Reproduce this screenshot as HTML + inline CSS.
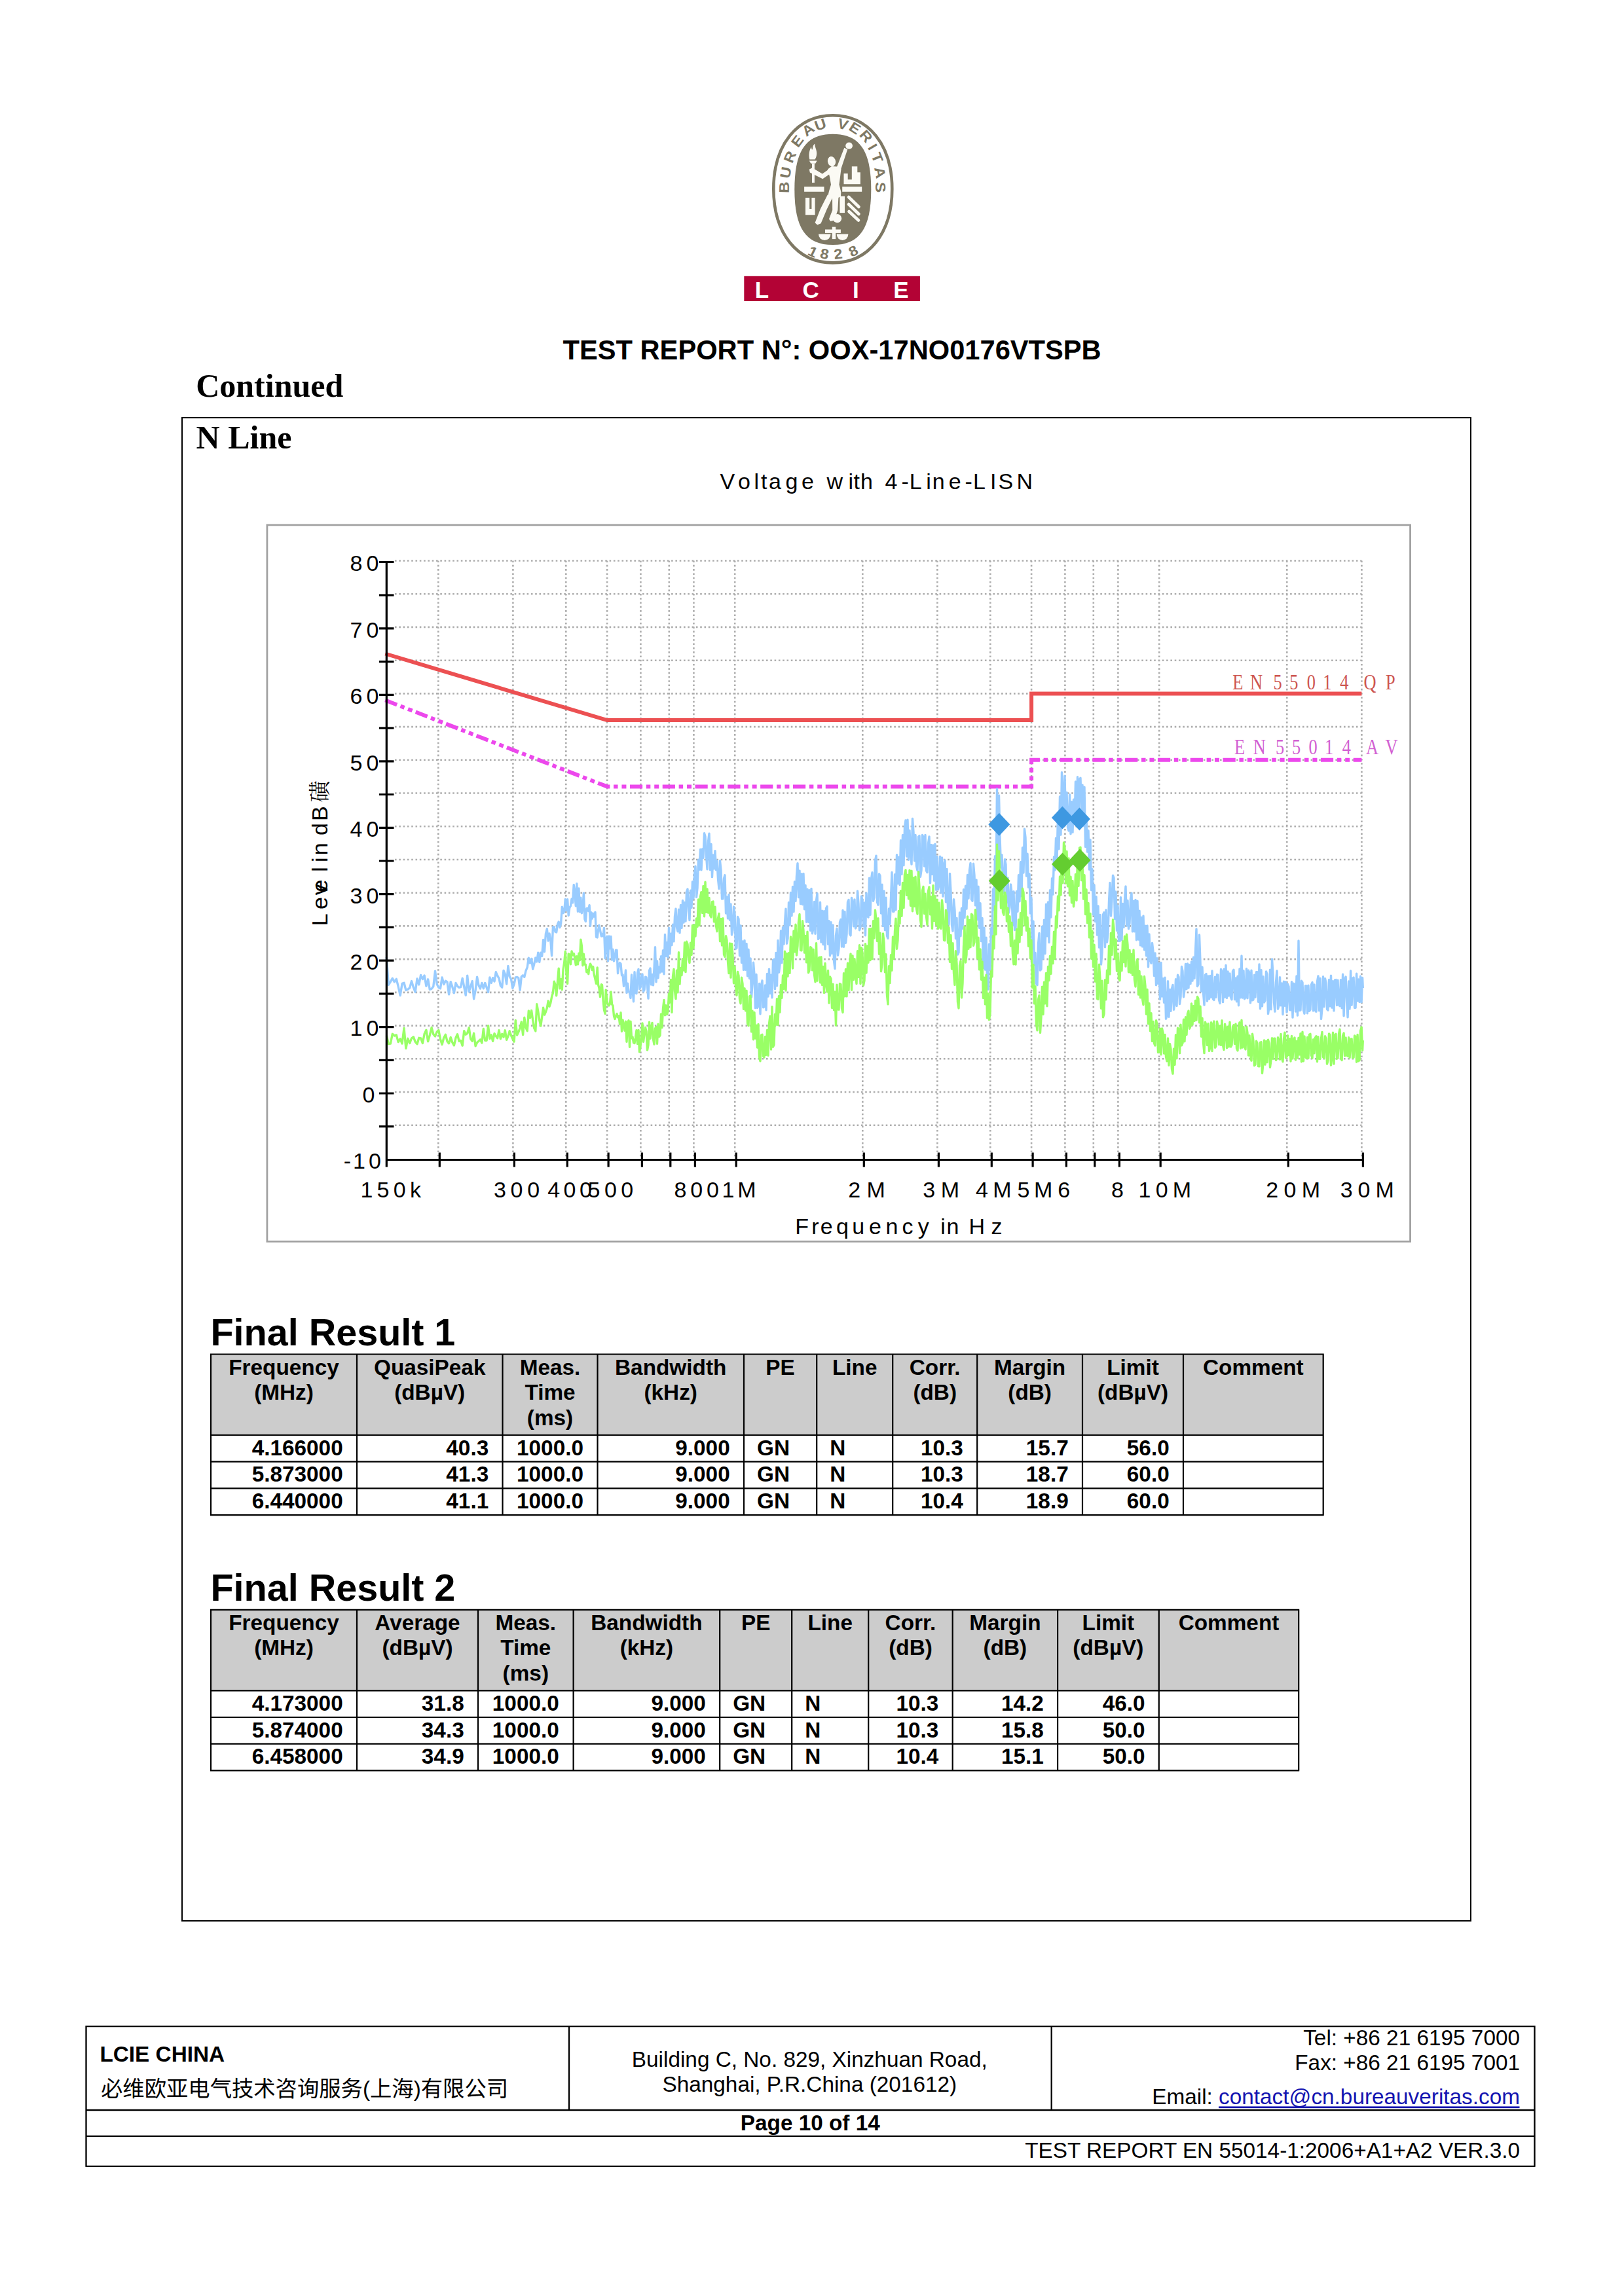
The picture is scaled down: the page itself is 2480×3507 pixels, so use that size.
<!DOCTYPE html>
<html><head><meta charset="utf-8"><title>Test Report Page 10</title>
<style>
html,body{margin:0;padding:0;background:#fff;}
body{width:2480px;height:3507px;overflow:hidden;position:relative;}
svg{position:absolute;left:0;top:0;}
</style></head><body>
<svg width="2480" height="3507" viewBox="0 0 2480 3507">
<g id="logo">
<path d="M1271.8 176.2 C1326.1 176.2 1362.3 221.2 1362.3 288.8 C1362.3 356.4 1326.1 401.4 1271.8 401.4 C1217.5 401.4 1181.3 356.4 1181.3 288.8 C1181.3 221.2 1217.5 176.2 1271.8 176.2 Z" fill="none" stroke="#7e7864" stroke-width="4.6"/>
<path d="M1271.8 204.8 C1312.8 204.8 1330.3 230.2 1330.3 289.4 C1330.3 348.6 1312.8 374.0 1271.8 374.0 C1230.8 374.0 1213.3 348.6 1213.3 289.4 C1213.3 230.2 1230.8 204.8 1271.8 204.8 Z" fill="#7e7864"/>
<g font-family="Liberation Sans, Arial, sans-serif" font-weight="bold" font-size="21.5" fill="#7e7864"><text transform="translate(1197.1 286.2) rotate(-88.8) scale(1.12 1)" y="7.7" text-anchor="middle">B</text><text transform="translate(1199.7 263.5) rotate(-78.9) scale(1.12 1)" y="7.7" text-anchor="middle">U</text><text transform="translate(1206.0 239.5) rotate(-67.3) scale(1.12 1)" y="7.7" text-anchor="middle">R</text><text transform="translate(1217.3 215.5) rotate(-53.2) scale(1.12 1)" y="7.7" text-anchor="middle">E</text><text transform="translate(1233.7 197.8) rotate(-37.0) scale(1.12 1)" y="7.7" text-anchor="middle">A</text><text transform="translate(1252.7 190.2) rotate(-19.2) scale(1.12 1)" y="7.7" text-anchor="middle">U</text><text transform="translate(1287.4 189.6) rotate(15.8) scale(1.12 1)" y="7.7" text-anchor="middle">V</text><text transform="translate(1305.7 195.3) rotate(33.1) scale(1.12 1)" y="7.7" text-anchor="middle">E</text><text transform="translate(1322.7 207.9) rotate(48.5) scale(1.12 1)" y="7.7" text-anchor="middle">R</text><text transform="translate(1332.8 224.3) rotate(59.5) scale(1.12 1)" y="7.7" text-anchor="middle">I</text><text transform="translate(1339.8 240.7) rotate(68.5) scale(1.12 1)" y="7.7" text-anchor="middle">T</text><text transform="translate(1344.2 263.5) rotate(78.9) scale(1.12 1)" y="7.7" text-anchor="middle">A</text><text transform="translate(1344.8 286.2) rotate(88.8) scale(1.12 1)" y="7.7" text-anchor="middle">S</text></g>
<g font-family="Liberation Sans, Arial, sans-serif" font-weight="bold" font-size="21.5" fill="#7e7864"><text transform="translate(1241.3 384.7) rotate(25.5) scale(1.1 1)" y="7.4" text-anchor="middle">1</text><text transform="translate(1259.0 387.8) rotate(11.0) scale(1.1 1)" y="7.4" text-anchor="middle">8</text><text transform="translate(1279.8 387.8) rotate(-6.9) scale(1.1 1)" y="7.4" text-anchor="middle">2</text><text transform="translate(1303.2 383.4) rotate(-26.4) scale(1.1 1)" y="7.4" text-anchor="middle">8</text></g>
<g fill="#fbfaf4" stroke="none">
<path d="M1236.3 243.5 C1234.5 236 1236 229 1239 224.5 C1239.2 229 1240.6 230 1241 226.5 C1241.3 222.5 1243 220.5 1244.3 219.6 C1244 224.5 1247.3 228.5 1247.2 234.5 C1247.1 239 1245.6 242 1244.5 243.5Z"/>
<path d="M1235.8 245.6 H1247.7 L1245.2 249.8 H1238.3Z"/><rect x="1240" y="249.7" width="3.9" height="29.3"/>
<path d="M1235.8 258.8 L1240.3 256.3 L1255.8 265.6 L1265.8 258.6 L1268.3 265 L1256.3 273.2 L1236.8 263.5Z"/>
<ellipse cx="1270" cy="246.6" rx="6" ry="7.7" transform="rotate(-12 1270 246.6)"/>
<path d="M1264 258.5 L1270 254 L1279 254.5 L1284.5 258 L1283 270 L1281.5 282 L1284.3 293 L1284 300 L1277 303.5 L1263.5 302.5 L1266 292 L1269 282 L1267 270Z"/>
<path d="M1277 257.5 L1289.3 225.8 L1294.2 228.2 L1283.8 259.5Z"/><ellipse cx="1296.6" cy="222.7" rx="5.4" ry="5.1"/>
<path d="M1263.8 297.5 L1272.3 299.8 L1262.5 320 L1253.6 341.2 L1248.2 343.6 L1244.6 340.3 L1252.8 319.2Z"/>
<path d="M1271 300 L1280.5 300.5 L1279.3 321 L1274.2 336.5 L1268.2 338 L1266 334.5 L1271.2 321Z"/><circle cx="1278.6" cy="333.6" r="6.6"/>
<rect x="1228.1" y="285.1" width="30.4" height="7.7"/><rect x="1286.2" y="285.1" width="30" height="7.7"/>
<path d="M1288.5 265 h6.2 v9.3 h6.1 v-20 h8.5 v9 h4.6 v18 h-25.4Z"/>
<path d="M1230 302 h6.2 v17 h3.2 v-17 h5.2 v26.2 h-14.6Z"/>
<rect x="1282.4" y="299.7" width="7.6" height="25.4"/>
<path d="M1296 301 L1311.5 316 M1296 312 L1311.5 327 M1296.5 323 L1311 336.5" stroke="#fbfaf4" stroke-width="4.6" stroke-linecap="round" fill="none"/>
<rect x="1270.8" y="346.6" width="5.4" height="18.5"/><rect x="1260" y="350.5" width="23.9" height="5.4"/>
<path d="M1250 357.4 h18.5 a9.25 9.6 0 0 1 -18.5 0Z"/><path d="M1277.7 357.4 h17.7 a8.85 9.6 0 0 1 -17.7 0Z"/>
</g>
<rect x="1136.3" y="421.8" width="268.6" height="38.2" fill="#b30335"/>
<g font-family="Liberation Sans, Arial, sans-serif" font-weight="bold" font-size="35" fill="#fff"><text x="1152.8" y="454.9">L</text><text x="1225.4" y="454.9">C</text><text x="1302.1" y="454.9">I</text><text x="1364.3" y="454.9">E</text></g>
</g>
<g id="header">
<text x="859.5" y="548.8" font-family="Liberation Sans, Arial, sans-serif" font-weight="bold" font-size="41.67">TEST REPORT N°: OOX-17NO0176VTSPB</text>
<text x="299.2" y="606.0" font-family="Liberation Serif, Times New Roman, serif" font-weight="bold" font-size="50">Continued</text>
<rect x="278" y="638" width="1968" height="2296" fill="none" stroke="#000" stroke-width="2"/>
<text x="299.6" y="685.3" font-family="Liberation Serif, Times New Roman, serif" font-weight="bold" font-size="50">N Line</text>
</g>
<g id="chart">
<rect x="407.9" y="801.9" width="1745.7" height="1094.4" fill="#fff" stroke="#a2a2a2" stroke-width="2.8"/>
<path d="M669.3 856.5V1769.5 M783.4 856.5V1769.5 M864.3 856.5V1769.5 M927.1 856.5V1769.5 M978.4 856.5V1769.5 M1021.8 856.5V1769.5 M1059.4 856.5V1769.5 M1122.2 856.5V1769.5 M1317.3 856.5V1769.5 M1431.4 856.5V1769.5 M1512.3 856.5V1769.5 M1575.1 856.5V1769.5 M1626.4 856.5V1769.5 M1669.8 856.5V1769.5 M1707.4 856.5V1769.5 M1770.2 856.5V1769.5 M1965.3 856.5V1769.5 M2079.4 856.5V1769.5 M603 1718.7H2079.4 M603 1668.0H2079.4 M603 1617.3H2079.4 M603 1566.6H2079.4 M603 1515.9H2079.4 M603 1465.1H2079.4 M603 1414.4H2079.4 M603 1363.7H2079.4 M603 1313.0H2079.4 M603 1262.3H2079.4 M603 1211.5H2079.4 M603 1160.8H2079.4 M603 1110.1H2079.4 M603 1059.4H2079.4 M603 1008.7H2079.4 M603 957.9H2079.4 M603 907.2H2079.4 M603 856.5H2079.4" stroke="#adadad" stroke-width="2.6" stroke-dasharray="2.6 3.7" fill="none"/>
<path d="M588.3 998.5 L927.1 1100.0 L1575.1 1100.0 L1575.1 1059.4 L2079.4 1059.4" stroke="#ec5052" stroke-width="6" fill="none"/>
<path d="M588.3 1069.5 L927.1 1201.4 L1575.1 1201.4 L1575.1 1160.8 L2079.4 1160.8" stroke="#ec48ec" stroke-width="6" fill="none" stroke-dasharray="19.2 5.7 6.5 5.9 7 5.5"/>
<path d="M590.3 1462.0 593.3 1504.3 596.3 1499.6 599.3 1494.4 602.3 1499.8 605.3 1495.4 608.2 1506.9 611.2 1520.6 614.1 1502.4 617.0 1501.2 619.9 1512.5 622.8 1511.3 625.7 1508.9 628.5 1498.6 631.3 1507.9 634.2 1515.3 637.0 1494.9 639.8 1504.0 642.6 1489.4 645.4 1495.6 648.1 1490.0 650.9 1506.3 653.6 1495.8 656.3 1511.4 659.1 1510.3 661.8 1506.8 664.5 1483.1 667.2 1503.2 669.8 1508.2 672.5 1509.8 675.1 1492.9 677.8 1503.5 680.4 1498.3 683.0 1499.9 685.6 1518.9 688.2 1499.6 690.8 1507.4 693.4 1516.7 696.0 1501.5 698.5 1506.2 701.1 1508.4 703.6 1507.7 706.2 1494.3 708.7 1507.4 711.2 1520.3 713.7 1490.2 716.2 1514.7 718.7 1506.8 721.2 1498.7 723.6 1525.7 726.1 1512.7 728.6 1492.2 731.0 1505.1 733.4 1510.1 735.9 1501.5 738.3 1509.8 740.7 1501.4 743.1 1508.3 745.5 1515.5 747.9 1492.9 750.3 1501.3 752.6 1493.7 755.0 1499.1 757.3 1484.8 759.7 1490.4 762.0 1494.3 764.4 1505.7 766.7 1508.2 769.0 1482.5 771.3 1488.0 773.6 1503.1 775.9 1475.5 778.2 1491.5 780.5 1495.3 782.8 1509.5 785.1 1503.5 787.3 1492.9 789.6 1492.4 791.8 1493.7 794.1 1512.3 796.3 1491.8 798.6 1489.9 800.8 1492.3 803.0 1482.9 805.2 1477.7 807.3 1463.3 809.5 1471.3 811.6 1464.4 813.7 1480.4 815.7 1472.6 817.8 1462.9 819.8 1468.9 821.8 1455.1 823.8 1469.6 825.8 1455.1 827.7 1460.3 829.6 1435.5 831.5 1453.7 833.4 1426.5 835.3 1418.8 837.2 1437.1 839.0 1426.0 840.8 1436.2 842.6 1459.8 844.4 1416.4 846.2 1415.7 848.0 1423.3 849.7 1423.9 851.5 1411.7 853.2 1408.0 854.9 1416.7 856.6 1410.5 858.3 1385.1 860.0 1394.6 861.7 1392.4 863.3 1373.5 865.0 1390.6 866.6 1373.8 868.2 1398.4 869.8 1386.4 871.4 1383.9 873.0 1373.3 874.6 1378.8 876.2 1351.5 877.7 1362.6 879.3 1383.8 880.8 1349.8 882.4 1392.3 883.9 1356.9 885.4 1392.8 886.9 1371.2 888.4 1394.8 889.9 1386.6 891.4 1364.1 892.9 1403.9 894.3 1407.5 895.8 1387.6 897.2 1387.3 898.7 1391.5 900.1 1382.6 901.5 1414.2 902.9 1393.8 904.3 1403.1 905.7 1395.2 907.0 1400.0 909.0 1393.3 910.5 1431.2 912.2 1431.9 913.5 1420.9 915.0 1413.3 916.5 1420.8 918.3 1430.0 919.5 1426.8 921.0 1430.1 922.5 1417.2 924.1 1463.7 925.2 1433.5 927.0 1430.3 928.5 1467.9 930.0 1430.0 931.5 1448.7 933.0 1430.5 934.5 1466.1 936.0 1450.2 937.5 1468.1 939.0 1462.8 940.5 1451.2 942.0 1451.2 943.5 1486.8 945.0 1475.5 946.5 1470.6 948.0 1472.2 949.5 1489.7 951.0 1488.7 952.5 1506.3 954.0 1500.5 955.5 1481.9 957.0 1516.4 958.5 1502.1 960.0 1514.4 961.5 1516.6 963.0 1524.5 964.5 1489.0 966.0 1511.8 967.5 1529.8 969.0 1484.7 970.5 1516.8 972.0 1517.5 973.5 1486.2 975.0 1480.5 976.5 1510.6 978.0 1508.3 979.5 1489.2 981.0 1488.1 982.5 1514.5 984.0 1511.8 985.5 1492.2 987.0 1492.8 988.5 1506.1 990.0 1525.1 991.5 1482.5 993.0 1479.1 994.5 1504.0 996.0 1488.4 997.5 1504.8 999.0 1479.5 1000.5 1446.8 1002.0 1499.9 1003.5 1467.9 1005.0 1493.8 1006.5 1476.9 1008.0 1485.5 1009.5 1460.7 1011.0 1484.0 1012.5 1451.7 1014.0 1487.7 1015.5 1427.4 1017.0 1460.4 1018.5 1439.6 1020.0 1462.4 1021.5 1417.2 1023.0 1456.7 1024.5 1426.2 1026.0 1443.5 1027.5 1412.1 1029.0 1437.9 1030.5 1399.7 1032.0 1388.1 1033.5 1416.5 1035.0 1422.7 1036.5 1389.3 1038.0 1424.9 1039.5 1382.4 1041.0 1417.4 1042.5 1375.5 1044.0 1409.1 1045.5 1378.5 1047.0 1407.2 1048.5 1362.2 1050.0 1358.1 1051.5 1391.5 1053.0 1405.5 1054.5 1360.1 1056.0 1386.4 1057.5 1346.8 1059.0 1372.3 1060.5 1336.2 1062.0 1323.3 1063.5 1370.4 1065.0 1356.6 1066.5 1313.2 1068.0 1328.2 1069.5 1297.4 1071.0 1328.7 1072.5 1296.9 1074.0 1310.2 1075.5 1272.8 1077.0 1277.5 1078.5 1306.4 1080.0 1327.7 1081.5 1285.5 1083.0 1273.3 1084.5 1328.6 1086.0 1289.4 1087.5 1339.6 1089.0 1306.0 1090.5 1326.9 1092.0 1299.6 1093.5 1328.6 1095.0 1314.7 1096.5 1342.7 1098.0 1357.4 1099.5 1314.7 1101.0 1328.9 1102.5 1373.0 1104.0 1372.9 1105.5 1342.0 1107.0 1336.8 1108.5 1395.0 1110.0 1369.9 1111.5 1402.9 1113.0 1366.5 1114.5 1405.5 1116.0 1380.9 1117.5 1427.9 1119.0 1421.3 1120.5 1384.9 1122.0 1395.8 1123.5 1449.3 1125.0 1447.9 1126.5 1400.5 1128.0 1403.7 1129.5 1459.8 1131.0 1413.7 1132.5 1470.4 1134.0 1438.0 1135.5 1481.4 1137.0 1436.4 1138.5 1481.2 1140.0 1441.4 1141.5 1490.7 1143.0 1450.2 1144.5 1494.5 1146.0 1463.9 1147.5 1523.1 1149.0 1502.8 1150.5 1470.2 1152.0 1488.8 1153.5 1539.6 1155.0 1488.5 1156.5 1539.4 1158.0 1536.6 1159.5 1502.5 1161.0 1548.8 1162.5 1505.0 1164.0 1497.8 1165.5 1538.7 1167.0 1537.9 1168.5 1504.9 1170.0 1542.8 1171.5 1487.4 1173.0 1522.0 1174.5 1480.1 1176.0 1517.2 1177.5 1489.2 1179.0 1523.8 1180.5 1466.2 1182.0 1465.4 1183.5 1510.7 1185.0 1455.4 1186.5 1505.6 1188.0 1436.4 1189.5 1485.4 1191.0 1473.9 1192.5 1421.7 1194.0 1470.6 1195.5 1416.5 1197.0 1442.1 1198.5 1409.5 1200.0 1388.2 1201.5 1441.3 1203.0 1433.5 1204.5 1378.4 1206.0 1413.0 1207.5 1363.5 1209.0 1398.7 1210.5 1354.4 1212.0 1392.6 1213.5 1346.6 1215.0 1376.4 1216.5 1338.4 1218.0 1318.6 1219.5 1370.6 1221.0 1329.9 1222.5 1380.6 1224.0 1334.7 1225.5 1381.5 1227.0 1334.5 1228.5 1388.7 1230.0 1352.2 1231.5 1408.3 1233.0 1358.2 1234.5 1408.3 1236.0 1359.7 1237.5 1421.3 1239.0 1357.4 1240.5 1425.9 1242.0 1417.4 1243.5 1377.5 1245.0 1426.2 1246.5 1375.7 1248.0 1364.8 1249.5 1434.4 1251.0 1432.3 1252.5 1378.2 1254.0 1439.1 1255.5 1391.3 1257.0 1442.6 1258.5 1391.6 1260.0 1449.8 1261.5 1387.6 1263.0 1384.5 1264.5 1442.1 1266.0 1406.8 1267.5 1459.8 1269.0 1408.8 1270.5 1456.2 1272.0 1413.0 1273.5 1467.8 1275.0 1479.6 1276.5 1428.8 1278.0 1418.3 1279.5 1459.3 1281.0 1448.8 1282.5 1408.5 1284.0 1404.4 1285.5 1446.0 1287.0 1390.4 1288.5 1446.2 1290.0 1392.4 1291.5 1440.4 1293.0 1427.3 1294.5 1377.9 1296.0 1374.4 1297.5 1426.4 1299.0 1428.9 1300.5 1371.4 1302.0 1378.4 1303.5 1414.7 1305.0 1373.9 1306.5 1418.0 1308.0 1413.8 1309.5 1361.0 1311.0 1380.4 1312.5 1420.7 1314.0 1416.5 1315.5 1369.0 1317.0 1374.5 1318.5 1414.9 1320.0 1378.8 1321.5 1428.8 1323.0 1364.3 1324.5 1399.1 1326.0 1401.2 1327.5 1341.3 1329.0 1397.2 1330.5 1342.4 1332.0 1332.8 1333.5 1376.3 1335.0 1371.1 1336.5 1314.5 1338.0 1307.1 1339.5 1377.7 1341.0 1382.2 1342.5 1334.9 1344.0 1337.8 1345.5 1395.0 1347.0 1351.3 1348.5 1414.5 1350.0 1361.0 1351.5 1420.6 1353.0 1371.3 1354.5 1429.3 1356.0 1433.3 1357.5 1388.0 1359.0 1411.2 1360.5 1371.9 1362.0 1332.5 1363.5 1392.2 1365.0 1392.4 1366.5 1335.8 1368.0 1389.6 1369.5 1305.7 1371.0 1349.5 1372.5 1309.2 1374.0 1351.5 1375.5 1283.7 1377.0 1335.5 1378.5 1275.4 1380.0 1321.8 1381.5 1264.2 1383.0 1252.9 1384.5 1308.0 1386.0 1252.2 1387.5 1313.2 1389.0 1268.4 1390.5 1302.1 1392.0 1320.1 1393.5 1250.4 1395.0 1271.0 1396.5 1314.7 1398.0 1275.4 1399.5 1322.9 1401.0 1329.7 1402.5 1278.1 1404.0 1276.6 1405.5 1339.3 1407.0 1329.4 1408.5 1275.5 1410.0 1278.3 1411.5 1323.0 1413.0 1275.4 1414.5 1329.9 1416.0 1332.6 1417.5 1288.6 1419.0 1277.9 1420.5 1348.6 1422.0 1290.4 1423.5 1335.4 1425.0 1290.9 1426.5 1345.1 1428.0 1289.1 1429.5 1359.2 1431.0 1308.4 1432.5 1358.8 1434.0 1351.3 1435.5 1308.3 1437.0 1363.2 1438.5 1309.9 1440.0 1369.1 1441.5 1320.9 1443.0 1314.1 1444.5 1377.8 1446.0 1327.5 1447.5 1387.4 1449.0 1411.7 1450.5 1334.4 1452.0 1362.0 1453.5 1412.7 1455.0 1422.3 1456.5 1373.6 1458.0 1390.3 1459.5 1433.6 1461.0 1402.2 1462.5 1458.0 1464.0 1454.8 1465.5 1394.0 1467.0 1429.8 1468.5 1387.3 1470.0 1418.3 1471.5 1358.8 1473.0 1401.9 1474.5 1353.3 1476.0 1388.1 1477.5 1336.5 1479.0 1372.3 1480.5 1329.3 1482.0 1318.4 1483.5 1373.6 1485.0 1376.2 1486.5 1319.3 1488.0 1337.0 1489.5 1382.9 1491.0 1343.9 1492.5 1404.6 1494.0 1354.2 1495.5 1417.2 1497.0 1379.8 1498.5 1437.6 1500.0 1402.5 1501.5 1478.6 1503.0 1417.2 1504.5 1481.1 1506.0 1432.2 1507.5 1491.5 1509.0 1511.2 1510.5 1442.3 1512.0 1480.2 1513.5 1417.8 1515.0 1431.5 1516.5 1358.2 1518.0 1389.7 1519.5 1307.6 1521.0 1353.4 1522.5 1205.0 1524.0 1324.2 1525.5 1215.0 1527.0 1278.2 1528.5 1324.9 1530.0 1305.8 1531.5 1347.9 1533.0 1363.6 1534.5 1312.6 1536.0 1320.5 1537.5 1378.5 1539.0 1340.9 1540.5 1394.1 1542.0 1386.0 1543.5 1351.0 1545.0 1363.8 1546.5 1413.3 1548.0 1361.8 1549.5 1420.5 1551.0 1418.2 1552.5 1361.4 1554.0 1392.2 1555.5 1336.8 1557.0 1376.8 1558.5 1316.8 1560.0 1368.8 1561.5 1294.7 1563.0 1333.0 1564.5 1266.1 1566.0 1279.0 1567.5 1338.1 1569.0 1304.3 1570.5 1355.4 1572.0 1335.0 1573.5 1395.1 1575.0 1371.3 1576.5 1448.6 1578.0 1407.3 1579.5 1474.1 1581.0 1455.5 1582.5 1502.6 1584.0 1504.7 1585.5 1442.0 1587.0 1425.5 1588.5 1482.1 1590.0 1480.3 1591.5 1415.1 1593.0 1464.1 1594.5 1405.1 1596.0 1456.5 1597.5 1381.3 1599.0 1429.9 1600.5 1378.0 1602.0 1439.5 1603.5 1359.8 1605.0 1401.0 1606.5 1341.8 1608.0 1366.1 1609.5 1308.7 1611.0 1329.1 1612.5 1280.2 1614.0 1317.9 1615.5 1244.6 1617.0 1296.8 1618.5 1216.8 1620.0 1275.0 1621.5 1179.8 1623.0 1206.5 1624.5 1262.2 1626.0 1185.1 1627.5 1252.8 1629.0 1210.4 1630.5 1263.6 1632.0 1268.9 1633.5 1213.7 1635.0 1273.7 1636.5 1224.7 1638.0 1271.4 1639.5 1221.3 1641.0 1255.6 1642.5 1193.9 1644.0 1240.9 1645.5 1186.8 1647.0 1244.0 1648.5 1190.3 1650.0 1188.4 1651.5 1246.6 1653.0 1199.0 1654.5 1261.3 1656.0 1202.3 1657.5 1293.4 1659.0 1247.6 1660.5 1301.1 1662.0 1268.7 1663.5 1328.1 1665.0 1282.8 1666.5 1359.5 1668.0 1327.6 1669.5 1396.9 1671.0 1351.7 1672.5 1407.5 1674.0 1369.7 1675.5 1428.1 1677.0 1384.0 1678.5 1447.1 1680.0 1397.4 1681.5 1473.0 1683.0 1454.8 1684.5 1397.0 1686.0 1393.8 1687.5 1446.7 1689.0 1389.9 1690.5 1439.2 1692.0 1426.6 1693.5 1376.5 1695.0 1348.5 1696.5 1399.0 1698.0 1375.1 1699.5 1337.1 1701.0 1341.1 1702.5 1403.8 1704.0 1362.0 1705.5 1421.4 1707.0 1383.2 1708.5 1436.9 1710.0 1437.5 1711.5 1370.6 1713.0 1435.6 1714.5 1380.5 1716.0 1416.4 1717.5 1375.6 1719.0 1353.9 1720.5 1413.9 1722.0 1375.5 1723.5 1418.6 1725.0 1410.2 1726.5 1373.0 1728.0 1364.2 1729.5 1422.9 1731.0 1376.3 1732.5 1422.8 1734.0 1374.5 1735.5 1435.7 1737.0 1376.2 1738.5 1435.0 1740.0 1391.1 1741.5 1443.9 1743.0 1401.2 1744.5 1445.9 1746.0 1399.0 1747.5 1450.7 1749.0 1414.3 1750.5 1459.8 1752.0 1413.9 1753.5 1477.0 1755.0 1426.9 1756.5 1465.8 1758.0 1471.4 1759.5 1440.4 1761.0 1453.2 1762.5 1490.5 1764.0 1455.9 1765.5 1504.8 1767.0 1463.6 1768.5 1502.3 1770.0 1471.7 1771.5 1526.4 1773.0 1470.4 1774.5 1521.7 1776.0 1494.8 1777.5 1531.3 1779.0 1493.1 1780.5 1556.2 1782.0 1551.5 1783.5 1498.7 1785.0 1553.2 1786.5 1511.4 1788.0 1544.3 1789.5 1509.9 1791.0 1504.5 1792.5 1542.3 1794.0 1531.6 1795.5 1495.7 1797.0 1536.5 1798.5 1489.2 1800.0 1492.2 1801.5 1533.6 1803.0 1522.8 1804.5 1476.5 1806.0 1483.2 1807.5 1522.8 1809.0 1511.5 1810.5 1472.4 1812.0 1510.8 1813.5 1471.9 1815.0 1509.0 1816.5 1473.6 1818.0 1502.6 1819.5 1468.9 1821.0 1498.1 1822.5 1462.2 1824.0 1494.5 1825.5 1453.4 1827.0 1419.0 1828.5 1506.5 1830.0 1503.5 1831.5 1428.0 1833.0 1469.3 1834.5 1514.2 1836.0 1477.3 1837.5 1516.0 1839.0 1535.1 1840.5 1489.2 1842.0 1487.6 1843.5 1529.1 1845.0 1491.0 1846.5 1525.7 1848.0 1490.4 1849.5 1523.2 1851.0 1483.0 1852.5 1526.0 1854.0 1527.4 1855.5 1492.2 1857.0 1523.4 1858.5 1488.5 1860.0 1489.3 1861.5 1527.3 1863.0 1532.5 1864.5 1480.5 1866.0 1484.4 1867.5 1530.6 1869.0 1480.5 1870.5 1523.3 1872.0 1474.4 1873.5 1524.4 1875.0 1483.9 1876.5 1521.0 1878.0 1486.9 1879.5 1523.3 1881.0 1526.7 1882.5 1483.5 1884.0 1481.3 1885.5 1526.6 1887.0 1493.9 1888.5 1529.8 1890.0 1491.2 1891.5 1535.7 1893.0 1479.9 1894.5 1523.7 1896.0 1460.0 1897.5 1524.0 1899.0 1482.7 1900.5 1525.7 1902.0 1523.8 1903.5 1479.6 1905.0 1524.7 1906.5 1482.3 1908.0 1485.8 1909.5 1531.9 1911.0 1482.3 1912.5 1527.9 1914.0 1527.0 1915.5 1489.1 1917.0 1523.3 1918.5 1484.6 1920.0 1484.7 1921.5 1530.2 1923.0 1473.0 1924.5 1540.8 1926.0 1481.8 1927.5 1536.9 1929.0 1491.7 1930.5 1531.0 1932.0 1528.2 1933.5 1483.9 1935.0 1488.0 1936.5 1548.5 1938.0 1538.7 1939.5 1481.2 1941.0 1541.7 1942.5 1465.0 1944.0 1488.2 1945.5 1531.3 1947.0 1545.0 1948.5 1500.2 1950.0 1483.0 1951.5 1541.1 1953.0 1536.0 1954.5 1492.6 1956.0 1535.7 1957.5 1502.0 1959.0 1549.5 1960.5 1499.1 1962.0 1536.2 1963.5 1499.7 1965.0 1546.1 1966.5 1503.1 1968.0 1506.8 1969.5 1542.6 1971.0 1542.7 1972.5 1499.7 1974.0 1554.1 1975.5 1502.3 1977.0 1503.8 1978.5 1545.0 1980.0 1490.9 1981.5 1551.1 1983.0 1437.0 1984.5 1543.4 1986.0 1543.0 1987.5 1498.3 1989.0 1500.7 1990.5 1542.5 1992.0 1548.2 1993.5 1505.6 1995.0 1506.0 1996.5 1547.7 1998.0 1505.2 1999.5 1544.4 2001.0 1542.0 2002.5 1503.9 2004.0 1500.6 2005.5 1543.9 2007.0 1503.9 2008.5 1543.5 2010.0 1545.3 2011.5 1499.4 2013.0 1490.9 2014.5 1543.6 2016.0 1494.4 2017.5 1556.4 2019.0 1540.0 2020.5 1491.7 2022.0 1537.6 2023.5 1494.6 2025.0 1501.4 2026.5 1541.5 2028.0 1543.0 2029.5 1496.5 2031.0 1536.9 2032.5 1490.1 2034.0 1539.1 2035.5 1498.6 2037.0 1543.9 2038.5 1497.0 2040.0 1496.6 2041.5 1535.5 2043.0 1497.2 2044.5 1534.8 2046.0 1536.6 2047.5 1496.6 2049.1 1539.8 2050.6 1488.1 2052.1 1551.7 2053.6 1495.4 2055.1 1492.0 2056.6 1530.8 2058.1 1553.8 2059.6 1498.9 2061.1 1540.9 2062.6 1483.0 2064.1 1535.2 2065.6 1494.7 2067.1 1493.0 2068.6 1539.2 2070.1 1539.4 2071.6 1487.2 2073.1 1528.7 2074.6 1496.0 2076.1 1530.5 2077.6 1491.3 2079.1 1530.8 2080.6 1493.5 2081.3 1509.2" stroke="#99ccff" stroke-width="3.4" fill="none" stroke-linejoin="round"/>
<path d="M590.3 1581.6 593.3 1594.5 596.3 1594.1 599.3 1579.3 602.3 1582.1 605.3 1580.9 608.2 1591.6 611.2 1586.7 614.1 1594.0 617.0 1570.4 619.9 1601.4 622.8 1586.3 625.7 1593.4 628.5 1586.0 631.3 1583.7 634.2 1591.4 637.0 1594.7 639.8 1585.3 642.6 1585.8 645.4 1593.5 648.1 1579.2 650.9 1573.3 653.6 1590.8 656.3 1581.1 659.1 1569.6 661.8 1579.7 664.5 1582.9 667.2 1576.2 669.8 1573.5 672.5 1587.5 675.1 1595.4 677.8 1585.0 680.4 1580.3 683.0 1590.7 685.6 1593.8 688.2 1584.4 690.8 1592.2 693.4 1596.8 696.0 1585.3 698.5 1579.7 701.1 1590.4 703.6 1589.4 706.2 1597.1 708.7 1574.7 711.2 1580.2 713.7 1578.3 716.2 1569.8 718.7 1586.8 721.2 1590.3 723.6 1578.3 726.1 1597.8 728.6 1592.3 731.0 1590.3 733.4 1587.9 735.9 1592.9 738.3 1571.4 740.7 1589.4 743.1 1589.2 745.5 1566.8 747.9 1586.5 750.3 1580.8 752.6 1590.3 755.0 1578.7 757.3 1582.5 759.7 1585.8 762.0 1573.6 764.4 1586.7 766.7 1579.3 769.0 1584.1 771.3 1573.8 773.6 1588.2 775.9 1582.9 778.2 1574.8 780.5 1581.6 782.8 1586.8 785.1 1591.1 787.3 1558.5 789.6 1581.0 791.8 1576.3 794.1 1570.3 796.3 1560.8 798.6 1580.5 800.8 1554.3 803.0 1569.6 805.2 1574.7 807.3 1543.9 809.5 1554.7 811.6 1543.4 813.7 1558.2 815.7 1570.4 817.8 1574.9 819.8 1533.7 821.8 1545.4 823.8 1558.3 825.8 1567.0 827.7 1553.3 829.6 1539.3 831.5 1550.1 833.4 1545.6 835.3 1539.7 837.2 1528.8 839.0 1537.4 840.8 1531.9 842.6 1522.6 844.4 1516.5 846.2 1499.1 848.0 1504.4 849.7 1520.9 851.5 1499.2 853.2 1479.1 854.9 1509.9 856.6 1495.5 858.3 1511.7 860.0 1481.1 861.7 1470.1 863.3 1453.2 865.0 1487.6 866.6 1502.5 868.2 1457.0 869.8 1457.9 871.4 1472.8 873.0 1452.9 874.6 1458.9 876.2 1456.5 877.7 1462.3 879.3 1474.0 880.8 1460.8 882.4 1473.1 883.9 1456.3 885.4 1466.7 886.9 1435.3 888.4 1444.9 889.9 1474.7 891.4 1457.3 892.9 1473.2 894.3 1473.3 895.8 1484.7 897.2 1481.5 898.7 1487.7 900.1 1476.4 901.5 1472.2 902.9 1475.2 904.3 1481.6 905.7 1476.6 907.0 1487.4 909.0 1495.9 910.5 1502.4 912.2 1477.9 913.5 1503.9 915.0 1509.6 916.5 1522.6 918.3 1503.8 919.5 1504.5 921.0 1527.2 922.5 1542.8 924.1 1548.3 925.2 1511.9 927.0 1529.1 928.5 1534.6 930.0 1535.9 931.5 1533.2 933.0 1514.9 934.5 1533.9 936.0 1536.3 937.5 1551.9 939.0 1556.4 940.5 1552.0 942.0 1548.4 943.5 1553.9 945.0 1551.7 946.5 1564.0 948.0 1546.8 949.5 1575.3 951.0 1557.9 952.5 1565.8 954.0 1574.2 955.5 1560.2 957.0 1591.2 958.5 1562.3 960.0 1558.7 961.5 1599.3 963.0 1560.2 964.5 1585.8 966.0 1583.9 967.5 1592.7 969.0 1593.5 970.5 1584.7 972.0 1573.7 973.5 1594.4 975.0 1573.4 976.5 1606.6 978.0 1598.6 979.5 1582.0 981.0 1563.0 982.5 1591.2 984.0 1579.9 985.5 1569.4 987.0 1575.4 988.5 1603.8 990.0 1596.1 991.5 1561.2 993.0 1586.3 994.5 1569.7 996.0 1562.4 997.5 1587.5 999.0 1595.1 1000.5 1570.9 1002.0 1568.6 1003.5 1594.2 1005.0 1564.1 1006.5 1583.4 1008.0 1581.4 1009.5 1549.0 1011.0 1569.6 1012.5 1540.2 1014.0 1527.4 1015.5 1550.9 1017.0 1535.7 1018.5 1549.5 1020.0 1545.0 1021.5 1517.6 1023.0 1531.0 1024.5 1496.4 1026.0 1546.2 1027.5 1491.1 1029.0 1480.4 1030.5 1513.8 1032.0 1525.6 1033.5 1482.1 1035.0 1515.9 1036.5 1454.8 1038.0 1503.1 1039.5 1478.6 1041.0 1489.6 1042.5 1464.8 1044.0 1482.1 1045.5 1439.7 1047.0 1484.6 1048.5 1438.3 1050.0 1442.2 1051.5 1463.0 1053.0 1470.6 1054.5 1440.3 1056.0 1458.4 1057.5 1413.5 1059.0 1448.5 1060.5 1413.0 1062.0 1430.0 1063.5 1402.9 1065.0 1415.4 1066.5 1374.0 1068.0 1413.6 1069.5 1369.7 1071.0 1362.7 1072.5 1394.4 1074.0 1353.4 1075.5 1399.8 1077.0 1347.2 1078.5 1393.4 1080.0 1358.0 1081.5 1394.1 1083.0 1371.4 1084.5 1398.2 1086.0 1401.0 1087.5 1377.7 1089.0 1377.1 1090.5 1407.9 1092.0 1385.1 1093.5 1414.3 1095.0 1422.7 1096.5 1402.6 1098.0 1395.4 1099.5 1437.7 1101.0 1403.4 1102.5 1444.0 1104.0 1402.7 1105.5 1458.0 1107.0 1461.4 1108.5 1429.7 1110.0 1436.4 1111.5 1469.0 1113.0 1486.5 1114.5 1441.0 1116.0 1493.1 1117.5 1441.4 1119.0 1459.2 1120.5 1501.7 1122.0 1476.5 1123.5 1505.7 1125.0 1520.3 1126.5 1484.4 1128.0 1490.4 1129.5 1526.0 1131.0 1532.8 1132.5 1493.3 1134.0 1502.8 1135.5 1541.4 1137.0 1509.6 1138.5 1543.7 1140.0 1513.1 1141.5 1562.9 1143.0 1566.7 1144.5 1521.8 1146.0 1520.8 1147.5 1575.9 1149.0 1544.3 1150.5 1587.8 1152.0 1546.5 1153.5 1586.1 1155.0 1566.2 1156.5 1600.0 1158.0 1564.5 1159.5 1614.2 1161.0 1620.8 1162.5 1581.2 1164.0 1580.3 1165.5 1613.3 1167.0 1615.0 1168.5 1583.4 1170.0 1611.2 1171.5 1573.5 1173.0 1612.3 1174.5 1563.6 1176.0 1552.2 1177.5 1603.0 1179.0 1537.6 1180.5 1599.1 1182.0 1595.7 1183.5 1549.2 1185.0 1565.3 1186.5 1525.6 1188.0 1565.6 1189.5 1521.4 1191.0 1546.1 1192.5 1504.4 1194.0 1524.3 1195.5 1490.0 1197.0 1510.3 1198.5 1453.2 1200.0 1513.0 1201.5 1456.5 1203.0 1491.4 1204.5 1455.7 1206.0 1486.4 1207.5 1431.0 1209.0 1436.8 1210.5 1479.0 1212.0 1422.0 1213.5 1453.9 1215.0 1412.2 1216.5 1459.0 1218.0 1444.9 1219.5 1408.8 1221.0 1396.5 1222.5 1451.3 1224.0 1451.8 1225.5 1406.7 1227.0 1421.3 1228.5 1455.1 1230.0 1429.5 1231.5 1469.9 1233.0 1423.3 1234.5 1485.8 1236.0 1482.2 1237.5 1446.6 1239.0 1447.8 1240.5 1481.9 1242.0 1450.1 1243.5 1488.5 1245.0 1499.7 1246.5 1440.8 1248.0 1498.1 1249.5 1464.7 1251.0 1462.3 1252.5 1500.8 1254.0 1461.8 1255.5 1504.4 1257.0 1476.4 1258.5 1516.5 1260.0 1471.5 1261.5 1500.3 1263.0 1514.9 1264.5 1482.4 1266.0 1532.1 1267.5 1492.0 1269.0 1495.2 1270.5 1539.4 1272.0 1503.2 1273.5 1542.8 1275.0 1514.9 1276.5 1566.1 1278.0 1504.3 1279.5 1541.9 1281.0 1542.2 1282.5 1502.5 1284.0 1503.7 1285.5 1540.1 1287.0 1546.4 1288.5 1486.7 1290.0 1521.9 1291.5 1480.4 1293.0 1521.9 1294.5 1471.2 1296.0 1512.5 1297.5 1472.6 1299.0 1456.9 1300.5 1512.3 1302.0 1459.8 1303.5 1496.5 1305.0 1464.7 1306.5 1489.6 1308.0 1502.5 1309.5 1452.6 1311.0 1492.3 1312.5 1443.7 1314.0 1502.5 1315.5 1447.6 1317.0 1455.2 1318.5 1505.1 1320.0 1497.9 1321.5 1441.7 1323.0 1486.0 1324.5 1445.0 1326.0 1470.3 1327.5 1418.8 1329.0 1466.6 1330.5 1418.5 1332.0 1464.6 1333.5 1406.7 1335.0 1432.9 1336.5 1390.3 1338.0 1405.2 1339.5 1437.5 1341.0 1402.7 1342.5 1457.3 1344.0 1425.1 1345.5 1483.7 1347.0 1472.7 1348.5 1426.0 1350.0 1440.3 1351.5 1484.9 1353.0 1457.8 1354.5 1520.0 1356.0 1533.9 1357.5 1475.7 1359.0 1501.5 1360.5 1458.7 1362.0 1482.2 1363.5 1430.9 1365.0 1464.5 1366.5 1422.5 1368.0 1403.1 1369.5 1449.4 1371.0 1436.2 1372.5 1391.5 1374.0 1410.7 1375.5 1360.7 1377.0 1399.2 1378.5 1348.4 1380.0 1386.6 1381.5 1335.6 1383.0 1329.0 1384.5 1367.4 1386.0 1336.2 1387.5 1372.9 1389.0 1329.2 1390.5 1383.3 1392.0 1330.1 1393.5 1391.8 1395.0 1340.8 1396.5 1384.3 1398.0 1339.2 1399.5 1388.5 1401.0 1396.0 1402.5 1331.6 1404.0 1354.9 1405.5 1404.8 1407.0 1415.7 1408.5 1360.4 1410.0 1354.3 1411.5 1395.5 1413.0 1365.3 1414.5 1400.0 1416.0 1412.4 1417.5 1361.3 1419.0 1354.8 1420.5 1396.8 1422.0 1369.7 1423.5 1418.2 1425.0 1352.4 1426.5 1406.3 1428.0 1368.8 1429.5 1412.2 1431.0 1374.3 1432.5 1418.4 1434.0 1379.0 1435.5 1416.9 1437.0 1418.4 1438.5 1374.9 1440.0 1389.5 1441.5 1435.9 1443.0 1436.6 1444.5 1390.1 1446.0 1396.2 1447.5 1440.1 1449.0 1416.9 1450.5 1469.3 1452.0 1428.5 1453.5 1480.0 1455.0 1440.6 1456.5 1486.3 1458.0 1504.4 1459.5 1452.6 1461.0 1472.0 1462.5 1530.5 1464.0 1540.0 1465.5 1474.7 1467.0 1467.9 1468.5 1523.9 1470.0 1502.1 1471.5 1446.0 1473.0 1415.6 1474.5 1470.1 1476.0 1458.6 1477.5 1400.0 1479.0 1449.2 1480.5 1405.4 1482.0 1446.8 1483.5 1396.2 1485.0 1397.9 1486.5 1444.4 1488.0 1439.0 1489.5 1389.6 1491.0 1413.6 1492.5 1463.7 1494.0 1432.1 1495.5 1480.9 1497.0 1449.9 1498.5 1496.3 1500.0 1468.9 1501.5 1524.4 1503.0 1493.3 1504.5 1533.9 1506.0 1489.3 1507.5 1554.8 1509.0 1517.7 1510.5 1557.6 1512.0 1548.2 1513.5 1483.6 1515.0 1491.9 1516.5 1429.7 1518.0 1448.7 1519.5 1384.3 1521.0 1427.1 1522.5 1290.0 1524.0 1375.1 1525.5 1300.0 1527.0 1338.0 1528.5 1387.1 1530.0 1332.5 1531.5 1393.5 1533.0 1397.3 1534.5 1363.2 1536.0 1368.9 1537.5 1407.4 1539.0 1386.9 1540.5 1423.2 1542.0 1399.7 1543.5 1445.0 1545.0 1409.2 1546.5 1456.9 1548.0 1472.8 1549.5 1436.6 1551.0 1473.1 1552.5 1419.5 1554.0 1456.1 1555.5 1404.8 1557.0 1438.9 1558.5 1394.7 1560.0 1428.4 1561.5 1357.3 1563.0 1363.1 1564.5 1413.4 1566.0 1376.1 1567.5 1421.4 1569.0 1401.1 1570.5 1445.2 1572.0 1418.4 1573.5 1463.6 1575.0 1436.1 1576.5 1508.4 1578.0 1473.8 1579.5 1532.9 1581.0 1506.6 1582.5 1563.4 1584.0 1573.9 1585.5 1527.0 1587.0 1520.5 1588.5 1577.4 1590.0 1553.6 1591.5 1507.1 1593.0 1549.3 1594.5 1500.2 1596.0 1532.8 1597.5 1486.4 1599.0 1536.7 1600.5 1476.4 1602.0 1497.6 1603.5 1460.2 1605.0 1487.2 1606.5 1446.3 1608.0 1471.6 1609.5 1423.2 1611.0 1464.3 1612.5 1399.7 1614.0 1416.8 1615.5 1369.0 1617.0 1390.6 1618.5 1338.9 1620.0 1367.0 1621.5 1310.2 1623.0 1348.7 1624.5 1287.0 1626.0 1294.8 1627.5 1349.0 1629.0 1300.5 1630.5 1353.8 1632.0 1311.0 1633.5 1367.8 1635.0 1339.3 1636.5 1378.7 1638.0 1345.4 1639.5 1384.7 1641.0 1371.3 1642.5 1335.4 1644.0 1375.2 1645.5 1305.9 1647.0 1353.3 1648.5 1295.0 1650.0 1294.3 1651.5 1344.6 1653.0 1307.6 1654.5 1373.1 1656.0 1336.7 1657.5 1396.5 1659.0 1358.7 1660.5 1409.6 1662.0 1379.4 1663.5 1431.9 1665.0 1395.5 1666.5 1464.3 1668.0 1422.3 1669.5 1476.6 1671.0 1443.3 1672.5 1499.1 1674.0 1456.9 1675.5 1525.4 1677.0 1526.2 1678.5 1473.3 1680.0 1495.1 1681.5 1540.3 1683.0 1498.3 1684.5 1553.7 1686.0 1548.8 1687.5 1496.7 1689.0 1526.7 1690.5 1482.1 1692.0 1501.2 1693.5 1444.8 1695.0 1488.0 1696.5 1425.3 1698.0 1458.4 1699.5 1404.7 1701.0 1418.2 1702.5 1464.2 1704.0 1434.9 1705.5 1483.2 1707.0 1456.5 1708.5 1494.7 1710.0 1497.7 1711.5 1454.8 1713.0 1482.6 1714.5 1437.7 1716.0 1469.6 1717.5 1430.3 1719.0 1476.1 1720.5 1427.2 1722.0 1443.2 1723.5 1484.7 1725.0 1451.1 1726.5 1485.9 1728.0 1457.2 1729.5 1489.3 1731.0 1451.0 1732.5 1496.6 1734.0 1507.1 1735.5 1469.6 1737.0 1465.0 1738.5 1519.1 1740.0 1483.5 1741.5 1523.9 1743.0 1491.3 1744.5 1525.5 1746.0 1534.7 1747.5 1491.5 1749.0 1505.9 1750.5 1549.0 1752.0 1511.5 1753.5 1563.6 1755.0 1532.6 1756.5 1574.7 1758.0 1547.8 1759.5 1590.4 1761.0 1560.5 1762.5 1593.5 1764.0 1597.0 1765.5 1558.6 1767.0 1564.6 1768.5 1607.5 1770.0 1607.2 1771.5 1571.2 1773.0 1610.7 1774.5 1571.0 1776.0 1577.3 1777.5 1609.0 1779.0 1580.4 1780.5 1614.2 1782.0 1620.8 1783.5 1586.0 1785.0 1627.2 1786.5 1594.4 1788.0 1602.4 1789.5 1632.8 1791.0 1640.1 1792.5 1601.9 1794.0 1626.3 1795.5 1580.8 1797.0 1616.6 1798.5 1570.3 1800.0 1572.1 1801.5 1608.7 1803.0 1565.2 1804.5 1596.8 1806.0 1593.2 1807.5 1557.2 1809.0 1590.7 1810.5 1553.7 1812.0 1580.5 1813.5 1548.5 1815.0 1544.1 1816.5 1571.2 1818.0 1567.5 1819.5 1532.9 1821.0 1565.1 1822.5 1536.6 1824.0 1559.4 1825.5 1528.4 1827.0 1558.3 1828.5 1522.5 1830.0 1525.7 1831.5 1561.9 1833.0 1537.3 1834.5 1583.2 1836.0 1555.2 1837.5 1592.4 1839.0 1608.6 1840.5 1561.2 1842.0 1566.1 1843.5 1596.5 1845.0 1563.4 1846.5 1605.4 1848.0 1599.4 1849.5 1561.6 1851.0 1605.5 1852.5 1564.7 1854.0 1560.0 1855.5 1600.2 1857.0 1598.0 1858.5 1560.3 1860.0 1567.1 1861.5 1595.5 1863.0 1566.9 1864.5 1596.4 1866.0 1558.6 1867.5 1596.6 1869.0 1603.5 1870.5 1564.2 1872.0 1570.1 1873.5 1600.7 1875.0 1568.3 1876.5 1598.8 1878.0 1561.2 1879.5 1598.9 1881.0 1596.2 1882.5 1568.4 1884.0 1565.8 1885.5 1594.3 1887.0 1564.0 1888.5 1601.2 1890.0 1604.8 1891.5 1566.6 1893.0 1561.8 1894.5 1601.3 1896.0 1558.3 1897.5 1600.0 1899.0 1568.8 1900.5 1597.7 1902.0 1602.9 1903.5 1568.1 1905.0 1577.8 1906.5 1612.0 1908.0 1581.7 1909.5 1612.3 1911.0 1620.2 1912.5 1579.2 1914.0 1589.9 1915.5 1627.6 1917.0 1626.0 1918.5 1590.3 1920.0 1593.5 1921.5 1628.6 1923.0 1628.9 1924.5 1592.4 1926.0 1591.8 1927.5 1639.3 1929.0 1623.9 1930.5 1589.0 1932.0 1626.1 1933.5 1590.4 1935.0 1622.6 1936.5 1588.2 1938.0 1593.4 1939.5 1630.2 1941.0 1619.0 1942.5 1585.6 1944.0 1617.2 1945.5 1586.1 1947.0 1586.2 1948.5 1619.4 1950.0 1616.3 1951.5 1584.7 1953.0 1589.1 1954.5 1618.1 1956.0 1579.5 1957.5 1616.2 1959.0 1621.6 1960.5 1586.5 1962.0 1577.1 1963.5 1615.9 1965.0 1614.0 1966.5 1581.6 1968.0 1611.6 1969.5 1586.7 1971.0 1621.0 1972.5 1582.5 1974.0 1617.0 1975.5 1588.0 1977.0 1585.0 1978.5 1619.0 1980.0 1590.5 1981.5 1615.8 1983.0 1585.3 1984.5 1610.8 1986.0 1578.6 1987.5 1621.7 1989.0 1576.3 1990.5 1620.7 1992.0 1582.9 1993.5 1613.7 1995.0 1616.5 1996.5 1584.5 1998.0 1616.3 1999.5 1580.3 2001.0 1579.4 2002.5 1611.7 2004.0 1616.2 2005.5 1587.8 2007.0 1608.7 2008.5 1584.9 2010.0 1582.7 2011.5 1621.5 2013.0 1583.6 2014.5 1617.1 2016.0 1617.2 2017.5 1585.9 2019.0 1576.5 2020.5 1614.6 2022.0 1616.2 2023.5 1582.8 2025.0 1586.1 2026.5 1625.0 2028.0 1619.9 2029.5 1578.9 2031.0 1580.8 2032.5 1627.1 2034.0 1614.8 2035.5 1577.2 2037.0 1625.0 2038.5 1580.9 2040.0 1579.3 2041.5 1617.2 2043.0 1616.2 2044.5 1579.3 2046.0 1572.3 2047.5 1615.4 2049.1 1619.5 2050.6 1581.9 2052.1 1578.1 2053.6 1612.9 2055.1 1584.9 2056.6 1611.8 2058.1 1613.3 2059.6 1584.8 2061.1 1615.4 2062.6 1587.4 2064.1 1586.8 2065.6 1615.9 2067.1 1615.2 2068.6 1582.0 2070.1 1583.6 2071.6 1622.2 2073.1 1580.5 2074.6 1620.7 2076.1 1619.3 2077.6 1574.5 2079.1 1568.9 2080.6 1604.3 2081.3 1589.2" stroke="#99ff66" stroke-width="3.4" fill="none" stroke-linejoin="round"/>
<path d="M1525.8 1241.7L1542.3 1259.2L1525.8 1276.7L1509.3 1259.2Z" fill="#3e98e1"/>
<path d="M1622.4 1231.6L1638.9 1249.1L1622.4 1266.6L1605.9 1249.1Z" fill="#3e98e1"/>
<path d="M1648.4 1233.6L1664.9 1251.1L1648.4 1268.6L1631.9 1251.1Z" fill="#3e98e1"/>
<path d="M1526.2 1327.9L1542.7 1345.4L1526.2 1362.9L1509.7 1345.4Z" fill="#64cd30"/>
<path d="M1622.5 1302.6L1639.0 1320.1L1622.5 1337.6L1606.0 1320.1Z" fill="#64cd30"/>
<path d="M1649.1 1296.5L1665.6 1314.0L1649.1 1331.5L1632.6 1314.0Z" fill="#64cd30"/>
<path d="M590.3 857V1782.5 M589 1771.5H2081.4 M579 1720.7H601.5 M579 1670.0H601.5 M579 1619.3H601.5 M579 1568.6H601.5 M579 1517.9H601.5 M579 1467.1H601.5 M579 1416.4H601.5 M579 1365.7H601.5 M579 1315.0H601.5 M579 1264.3H601.5 M579 1213.5H601.5 M579 1162.8H601.5 M579 1112.1H601.5 M579 1061.4H601.5 M579 1010.7H601.5 M579 959.9H601.5 M579 909.2H601.5 M579 858.5H601.5 M671.3 1760.5V1782.5 M785.4 1760.5V1782.5 M866.3 1760.5V1782.5 M929.1 1760.5V1782.5 M980.4 1760.5V1782.5 M1023.8 1760.5V1782.5 M1061.4 1760.5V1782.5 M1124.2 1760.5V1782.5 M1319.3 1760.5V1782.5 M1433.4 1760.5V1782.5 M1514.3 1760.5V1782.5 M1577.1 1760.5V1782.5 M1628.4 1760.5V1782.5 M1671.8 1760.5V1782.5 M1709.4 1760.5V1782.5 M1772.2 1760.5V1782.5 M1967.3 1760.5V1782.5 M2081.4 1760.5V1782.5" stroke="#000" stroke-width="3.2" fill="none"/>
<g font-family="Liberation Sans, Arial, sans-serif" font-size="34" fill="#000" letter-spacing="6"><text x="553.4" y="1683.8">0</text><text x="534.5" y="1582.4">10</text><text x="534.5" y="1480.9">20</text><text x="534.5" y="1379.5">30</text><text x="534.5" y="1278.1">40</text><text x="534.5" y="1176.6">50</text><text x="534.5" y="1075.2">60</text><text x="534.5" y="973.7">70</text><text x="534.5" y="872.3">80</text><text x="524.7 538.9 563.0" y="1785.3" letter-spacing="0">-10</text></g>
<g font-family="Liberation Sans, Arial, sans-serif" font-size="34" fill="#000"><text x="550.4" y="1829.3" letter-spacing="6.27" >150k</text><text x="753.9" y="1829.3" letter-spacing="6.75" >300</text><text x="836.2" y="1829.3" letter-spacing="5.49" >400</text><text x="897.6" y="1829.3" letter-spacing="6.48" >500</text><text x="1029.5" y="1829.3" letter-spacing="5.84" >800</text><text x="1102.4" y="1829.3" letter-spacing="4.85" >1M</text><text x="1295.3" y="1829.3" letter-spacing="9.27" >2M</text><text x="1409.2" y="1829.3" letter-spacing="8.75" >3M</text><text x="1490.0" y="1829.3" letter-spacing="7.44" >4M</text><text x="1553.6" y="1829.3" letter-spacing="6.62" >5M</text><text x="1615.3" y="1829.3" letter-spacing="0.00" >6</text><text x="1697.1" y="1829.3" letter-spacing="0.00" >8</text><text x="1738.6" y="1829.3" letter-spacing="7.22" >10M</text><text x="1933.3" y="1829.3" letter-spacing="8.28" >20M</text><text x="2046.7" y="1829.3" letter-spacing="7.97" >30M</text></g>
<text x="1214.3 1239.3 1252.8 1276.9 1301.2 1327.1 1352.4 1377.4 1401.7 1418.7 1436.2 1445.6 1464.6 1479.6 1513.5" y="1885.0" font-family="Liberation Sans, Arial, sans-serif" font-size="34">Frequency in Hz</text>
<text x="1099.4 1127.1 1151.6 1161.9 1174.0 1199.4 1224.1 1243.0 1262.4 1295.5 1303.5 1313.9 1332.9 1351.6 1376.5 1388.8 1414.2 1423.8 1448.7 1473.4 1486.0 1512.1 1524.6 1552.4" y="746.9" font-family="Liberation Sans, Arial, sans-serif" font-size="34">Voltage with 4-Line-LISN</text>
<text transform="translate(500.2 1411.5) rotate(-90)" x="-2.8 22.6 44.3 49.1 79.7 87.3 94.4 105.3 124.3 135.5 157.6 186.0" y="0" font-family="Liberation Sans, Noto Sans CJK SC, sans-serif" font-size="34">Level in dB<tspan font-family="Noto Serif CJK SC, Noto Sans CJK SC, serif" font-size="33">磺</tspan></text>
<g font-family="Liberation Serif, serif" font-size="33" fill="#cd5651"><text transform="translate(1883.1 1052.9) scale(0.8 1)" x="-1.0">E</text><text transform="translate(1909.9 1052.9) scale(0.8 1)" x="-1.0">N</text><text transform="translate(1945.9 1052.9) scale(0.8 1)" x="-1.9">5</text><text transform="translate(1970.8 1052.9) scale(0.8 1)" x="-1.9">5</text><text transform="translate(1996.7 1052.9) scale(0.8 1)" x="-1.3">0</text><text transform="translate(2022.6 1052.9) scale(0.8 1)" x="-2.9">1</text><text transform="translate(2046.6 1052.9) scale(0.8 1)" x="-0.6">4</text><text transform="translate(2083.5 1052.9) scale(0.8 1)" x="-1.4">Q</text><text transform="translate(2116.8 1052.9) scale(0.8 1)" x="-1.0">P</text></g>
<g font-family="Liberation Serif, serif" font-size="33" fill="#d261d2"><text transform="translate(1885.9 1152.3) scale(0.8 1)" x="-1.0">E</text><text transform="translate(1914.5 1152.3) scale(0.8 1)" x="-1.0">N</text><text transform="translate(1949.6 1152.3) scale(0.8 1)" x="-1.9">5</text><text transform="translate(1974.5 1152.3) scale(0.8 1)" x="-1.9">5</text><text transform="translate(1999.5 1152.3) scale(0.8 1)" x="-1.3">0</text><text transform="translate(2025.3 1152.3) scale(0.8 1)" x="-2.9">1</text><text transform="translate(2050.3 1152.3) scale(0.8 1)" x="-0.6">4</text><text transform="translate(2086.3 1152.3) scale(0.8 1)" x="-0.3">A</text><text transform="translate(2115.9 1152.3) scale(0.8 1)" x="-0.4">V</text></g>
</g>
<g id="tables">
<text x="321.5" y="2054.7" font-family="Liberation Sans, Arial, sans-serif" font-weight="bold" font-size="57.5">Final Result 1</text>
<rect x="322.0" y="2068.5" width="1698.7" height="123.5" fill="#cccccc"/>
<path d="M321.0 2068.5H2021.7 M321.0 2192.0H2021.7 M321.0 2232.7H2021.7 M321.0 2273.4H2021.7 M321.0 2314.1H2021.7 M322.0 2068.5V2314.1 M545.0 2068.5V2314.1 M767.5 2068.5V2314.1 M912.5 2068.5V2314.1 M1136.0 2068.5V2314.1 M1247.2 2068.5V2314.1 M1363.2 2068.5V2314.1 M1492.2 2068.5V2314.1 M1653.0 2068.5V2314.1 M1807.0 2068.5V2314.1 M2020.7 2068.5V2314.1" stroke="#000" stroke-width="2.2" fill="none"/>
<g font-family="Liberation Sans, Arial, sans-serif" font-weight="bold" font-size="33.33"><text x="433.5" y="2099.5" text-anchor="middle">Frequency</text><text x="433.5" y="2138.1" text-anchor="middle">(MHz)</text><text x="656.2" y="2099.5" text-anchor="middle">QuasiPeak</text><text x="656.2" y="2138.1" text-anchor="middle">(dBµV)</text><text x="840.0" y="2099.5" text-anchor="middle">Meas.</text><text x="840.0" y="2138.1" text-anchor="middle">Time</text><text x="840.0" y="2176.7" text-anchor="middle">(ms)</text><text x="1024.2" y="2099.5" text-anchor="middle">Bandwidth</text><text x="1024.2" y="2138.1" text-anchor="middle">(kHz)</text><text x="1191.6" y="2099.5" text-anchor="middle">PE</text><text x="1305.2" y="2099.5" text-anchor="middle">Line</text><text x="1427.7" y="2099.5" text-anchor="middle">Corr.</text><text x="1427.7" y="2138.1" text-anchor="middle">(dB)</text><text x="1572.6" y="2099.5" text-anchor="middle">Margin</text><text x="1572.6" y="2138.1" text-anchor="middle">(dB)</text><text x="1730.0" y="2099.5" text-anchor="middle">Limit</text><text x="1730.0" y="2138.1" text-anchor="middle">(dBµV)</text><text x="1913.8" y="2099.5" text-anchor="middle">Comment</text><text x="523.7" y="2222.5" text-anchor="end">4.166000</text><text x="746.2" y="2222.5" text-anchor="end">40.3</text><text x="840.0" y="2222.5" text-anchor="middle">1000.0</text><text x="1114.7" y="2222.5" text-anchor="end">9.000</text><text x="1156.0" y="2222.5">GN</text><text x="1267.2" y="2222.5">N</text><text x="1470.9" y="2222.5" text-anchor="end">10.3</text><text x="1631.7" y="2222.5" text-anchor="end">15.7</text><text x="1785.7" y="2222.5" text-anchor="end">56.0</text><text x="523.7" y="2263.2" text-anchor="end">5.873000</text><text x="746.2" y="2263.2" text-anchor="end">41.3</text><text x="840.0" y="2263.2" text-anchor="middle">1000.0</text><text x="1114.7" y="2263.2" text-anchor="end">9.000</text><text x="1156.0" y="2263.2">GN</text><text x="1267.2" y="2263.2">N</text><text x="1470.9" y="2263.2" text-anchor="end">10.3</text><text x="1631.7" y="2263.2" text-anchor="end">18.7</text><text x="1785.7" y="2263.2" text-anchor="end">60.0</text><text x="523.7" y="2303.9" text-anchor="end">6.440000</text><text x="746.2" y="2303.9" text-anchor="end">41.1</text><text x="840.0" y="2303.9" text-anchor="middle">1000.0</text><text x="1114.7" y="2303.9" text-anchor="end">9.000</text><text x="1156.0" y="2303.9">GN</text><text x="1267.2" y="2303.9">N</text><text x="1470.9" y="2303.9" text-anchor="end">10.4</text><text x="1631.7" y="2303.9" text-anchor="end">18.9</text><text x="1785.7" y="2303.9" text-anchor="end">60.0</text></g>
<text x="321.5" y="2445.2" font-family="Liberation Sans, Arial, sans-serif" font-weight="bold" font-size="57.5">Final Result 2</text>
<rect x="322.0" y="2458.8" width="1661.2" height="123.5" fill="#cccccc"/>
<path d="M321.0 2458.8H1984.2 M321.0 2582.3H1984.2 M321.0 2623.0H1984.2 M321.0 2663.7H1984.2 M321.0 2704.4H1984.2 M322.0 2458.8V2704.4 M545.0 2458.8V2704.4 M730.0 2458.8V2704.4 M875.6 2458.8V2704.4 M1099.2 2458.8V2704.4 M1209.2 2458.8V2704.4 M1326.2 2458.8V2704.4 M1454.7 2458.8V2704.4 M1615.1 2458.8V2704.4 M1769.8 2458.8V2704.4 M1983.2 2458.8V2704.4" stroke="#000" stroke-width="2.2" fill="none"/>
<g font-family="Liberation Sans, Arial, sans-serif" font-weight="bold" font-size="33.33"><text x="433.5" y="2489.8" text-anchor="middle">Frequency</text><text x="433.5" y="2528.4" text-anchor="middle">(MHz)</text><text x="637.5" y="2489.8" text-anchor="middle">Average</text><text x="637.5" y="2528.4" text-anchor="middle">(dBµV)</text><text x="802.8" y="2489.8" text-anchor="middle">Meas.</text><text x="802.8" y="2528.4" text-anchor="middle">Time</text><text x="802.8" y="2567.0" text-anchor="middle">(ms)</text><text x="987.4" y="2489.8" text-anchor="middle">Bandwidth</text><text x="987.4" y="2528.4" text-anchor="middle">(kHz)</text><text x="1154.2" y="2489.8" text-anchor="middle">PE</text><text x="1267.7" y="2489.8" text-anchor="middle">Line</text><text x="1390.5" y="2489.8" text-anchor="middle">Corr.</text><text x="1390.5" y="2528.4" text-anchor="middle">(dB)</text><text x="1534.9" y="2489.8" text-anchor="middle">Margin</text><text x="1534.9" y="2528.4" text-anchor="middle">(dB)</text><text x="1692.4" y="2489.8" text-anchor="middle">Limit</text><text x="1692.4" y="2528.4" text-anchor="middle">(dBµV)</text><text x="1876.5" y="2489.8" text-anchor="middle">Comment</text><text x="523.7" y="2612.8" text-anchor="end">4.173000</text><text x="708.7" y="2612.8" text-anchor="end">31.8</text><text x="802.8" y="2612.8" text-anchor="middle">1000.0</text><text x="1077.9" y="2612.8" text-anchor="end">9.000</text><text x="1119.2" y="2612.8">GN</text><text x="1229.2" y="2612.8">N</text><text x="1433.4" y="2612.8" text-anchor="end">10.3</text><text x="1593.8" y="2612.8" text-anchor="end">14.2</text><text x="1748.5" y="2612.8" text-anchor="end">46.0</text><text x="523.7" y="2653.5" text-anchor="end">5.874000</text><text x="708.7" y="2653.5" text-anchor="end">34.3</text><text x="802.8" y="2653.5" text-anchor="middle">1000.0</text><text x="1077.9" y="2653.5" text-anchor="end">9.000</text><text x="1119.2" y="2653.5">GN</text><text x="1229.2" y="2653.5">N</text><text x="1433.4" y="2653.5" text-anchor="end">10.3</text><text x="1593.8" y="2653.5" text-anchor="end">15.8</text><text x="1748.5" y="2653.5" text-anchor="end">50.0</text><text x="523.7" y="2694.2" text-anchor="end">6.458000</text><text x="708.7" y="2694.2" text-anchor="end">34.9</text><text x="802.8" y="2694.2" text-anchor="middle">1000.0</text><text x="1077.9" y="2694.2" text-anchor="end">9.000</text><text x="1119.2" y="2694.2">GN</text><text x="1229.2" y="2694.2">N</text><text x="1433.4" y="2694.2" text-anchor="end">10.4</text><text x="1593.8" y="2694.2" text-anchor="end">15.1</text><text x="1748.5" y="2694.2" text-anchor="end">50.0</text></g>
</g>
<g id="footer">
<path d="M130.6 3095.2H2344.3 M130.6 3223H2344.3 M130.6 3262.9H2344.3 M130.6 3308.8H2344.3 M131.5 3094V3309.5 M2343.5 3094V3309.5 M869 3095V3222.6 M1605.7 3095V3222.6" stroke="#000" stroke-width="2.3" fill="none"/>
<text x="152.4" y="3148.7" font-family="Liberation Sans, Arial, sans-serif" font-size="33.33" font-weight="bold">LCIE CHINA</text>
<text x="154" y="3201.5" font-family="Liberation Sans, Noto Sans CJK SC, sans-serif" font-size="33.33">必维欧亚电气技术咨询服务(上海)有限公司</text>
<text x="1236.3" y="3156.8" font-family="Liberation Sans, Arial, sans-serif" font-size="33.33" text-anchor="middle">Building C, No. 829, Xinzhuan Road,</text>
<text x="1236.3" y="3195.3" font-family="Liberation Sans, Arial, sans-serif" font-size="33.33" text-anchor="middle">Shanghai, P.R.China (201612)</text>
<text x="2321" y="3124.4" font-family="Liberation Sans, Arial, sans-serif" font-size="33.33" text-anchor="end">Tel: +86 21 6195 7000</text>
<text x="2321" y="3162.3" font-family="Liberation Sans, Arial, sans-serif" font-size="33.33" text-anchor="end">Fax: +86 21 6195 7001</text>
<text x="2321" y="3213.8" font-family="Liberation Sans, Arial, sans-serif" font-size="33.33" text-anchor="end">Email: <tspan fill="#1414b0">contact@cn.bureauveritas.com</tspan></text>
<rect x="1861" y="3217.4" width="459.5" height="2.7" fill="#1414b0"/>
<text x="1237.3" y="3253.9" font-family="Liberation Sans, Arial, sans-serif" font-size="33.33" font-weight="bold" text-anchor="middle">Page 10 of 14</text>
<text x="2321" y="3296.2" font-family="Liberation Sans, Arial, sans-serif" font-size="33.33" text-anchor="end">TEST REPORT EN 55014-1:2006+A1+A2 VER.3.0</text>
</g>
</svg>
</body></html>
